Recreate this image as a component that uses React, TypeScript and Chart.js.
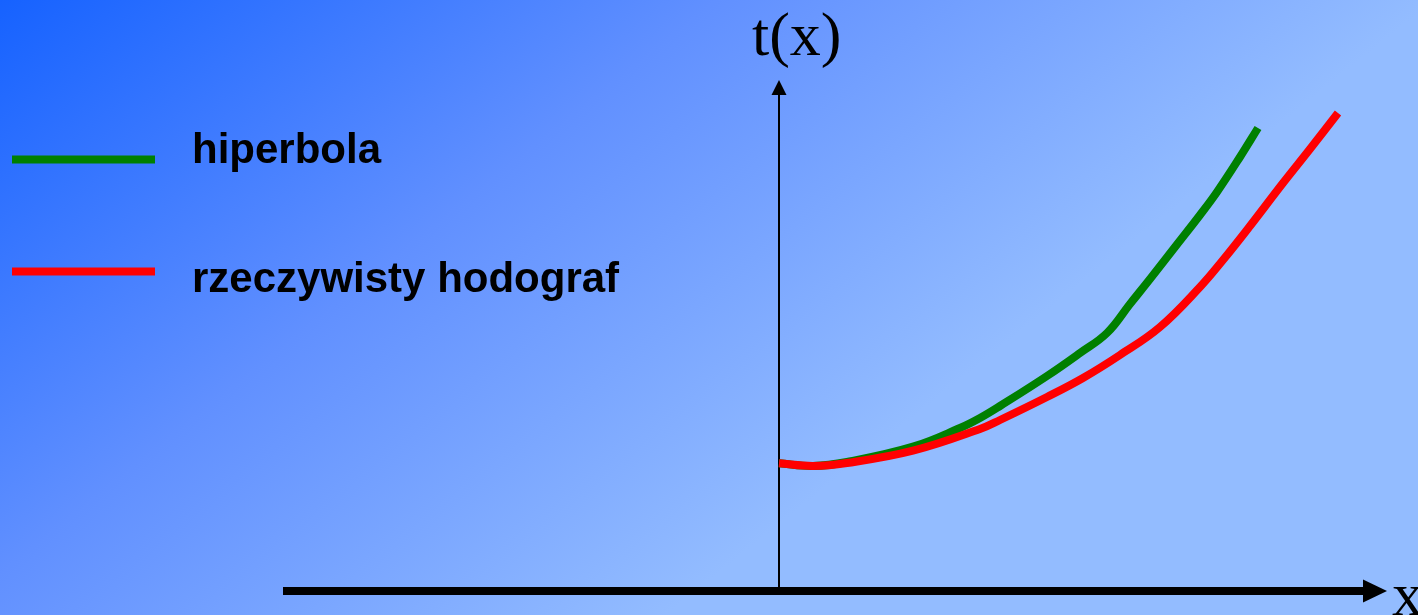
import React, { useEffect, useRef } from "react";
import { Chart, registerables } from "chart.js";

Chart.register(...registerables);

// Offsets x (from the t-axis) and travel times t (above the x-axis)
const hyperbolaX = [0, 34, 68, 134, 181, 201, 221, 268, 301, 328, 351, 371, 396, 421, 438, 461, 479];
const hyperbolaT = [127.7, 125, 129, 144.3, 163, 173, 185, 215, 238, 258, 287, 312, 344, 376, 399, 434, 463];

const realX = [0, 34, 68, 134, 201, 221, 268, 304, 341, 381, 421, 444, 471, 504, 531, 559];
const realT = [127.7, 125, 128, 140.3, 162, 171, 194, 213, 236, 264, 304, 331, 365, 408, 442, 478];

const seriesLabels = ["hiperbola", "rzeczywisty hodograf"];
const seriesColors = ["#008000", "#ff0000"];
const axisLabelY = "t(x)";
const axisLabelX = "x";

const W = 1418;
const H = 615;

const bgPlugin = {
  id: "bg",
  beforeDraw(chart: any) {
    const { ctx } = chart;
    ctx.save();
    const g = ctx.createLinearGradient(0, 0, 560, 700);
    g.addColorStop(0, "#1662ff");
    g.addColorStop(0.5, "#6190ff");
    g.addColorStop(1, "#93bcff");
    ctx.fillStyle = g;
    ctx.fillRect(0, 0, W, H);
    ctx.restore();
  },
};

const axesPlugin = {
  id: "axesArrows",
  beforeDatasetsDraw(chart: any) {
    const { ctx } = chart;
    const xs = chart.scales.x;
    const ys = chart.scales.y;
    const x0 = xs.getPixelForValue(0);
    const y0 = ys.getPixelForValue(0);
    ctx.save();
    ctx.fillStyle = "#000";
    ctx.strokeStyle = "#000";
    // x-axis (thick)
    const xStart = xs.getPixelForValue(-496);
    const xBase = xs.getPixelForValue(584);
    const xTip = xs.getPixelForValue(608);
    ctx.lineWidth = 8;
    ctx.beginPath();
    ctx.moveTo(xStart, y0);
    ctx.lineTo(xBase + 1, y0);
    ctx.stroke();
    ctx.beginPath();
    ctx.moveTo(xTip, y0);
    ctx.lineTo(xBase, y0 - 11.5);
    ctx.lineTo(xBase, y0 + 11.5);
    ctx.closePath();
    ctx.fill();
    // t-axis (thin)
    const yBase = ys.getPixelForValue(496);
    const yTip = ys.getPixelForValue(511);
    ctx.lineWidth = 2;
    ctx.beginPath();
    ctx.moveTo(x0, y0);
    ctx.lineTo(x0, yBase - 1);
    ctx.stroke();
    ctx.beginPath();
    ctx.moveTo(x0, yTip);
    ctx.lineTo(x0 - 7.5, yBase);
    ctx.lineTo(x0 + 7.5, yBase);
    ctx.closePath();
    ctx.fill();
    ctx.restore();
  },
  afterDraw(chart: any) {
    const { ctx } = chart;
    ctx.save();
    ctx.fillStyle = "#000";
    ctx.textAlign = "left";
    ctx.textBaseline = "alphabetic";
    ctx.font = '62px "Liberation Serif", "Times New Roman", serif';
    ctx.fillText(axisLabelY, 752, 55);
    ctx.fillText(axisLabelX, 1392, 615);
    // legend
    const rows = [159.5, 271.5];
    const baselines = [163, 292];
    ctx.font = 'bold 42px "Liberation Sans", Arial, sans-serif';
    seriesLabels.forEach((lab, i) => {
      ctx.strokeStyle = seriesColors[i];
      ctx.lineWidth = 8;
      ctx.beginPath();
      ctx.moveTo(12, rows[i]);
      ctx.lineTo(155, rows[i]);
      ctx.stroke();
      ctx.fillStyle = "#000";
      ctx.fillText(lab, 192, baselines[i]);
    });
    ctx.restore();
  },
};

export default function App() {
  const ref = useRef<HTMLCanvasElement | null>(null);
  useEffect(() => {
    if (!ref.current) return;
    const toPts = (xs: number[], ts: number[]) => xs.map((x, i) => ({ x, y: ts[i] }));
    const chart = new Chart(ref.current, {
      type: "line",
      data: {
        datasets: [
          {
            label: seriesLabels[1],
            data: toPts(realX, realT),
            borderColor: seriesColors[1],
            borderWidth: 8,
            pointRadius: 0,
            tension: 0.4,
            fill: false,
            order: 0,
          },
          {
            label: seriesLabels[0],
            data: toPts(hyperbolaX, hyperbolaT),
            borderColor: seriesColors[0],
            borderWidth: 8,
            pointRadius: 0,
            tension: 0.4,
            fill: false,
            order: 1,
          },
        ],
      },
      options: {
        responsive: false,
        maintainAspectRatio: false,
        animation: false,
        devicePixelRatio: 1,
        layout: { padding: 0 },
        scales: {
          x: { type: "linear", min: -779, max: 639, display: false },
          y: { type: "linear", min: -24, max: 591, display: false },
        },
        plugins: {
          legend: { display: false },
          tooltip: { enabled: false },
        },
      },
      plugins: [bgPlugin, axesPlugin],
    } as any);
    return () => chart.destroy();
  }, []);
  return (
    <div style={{ position: "fixed", left: 0, top: 0, width: W, height: H }}>
      <canvas ref={ref} width={W} height={H} style={{ display: "block" }} />
    </div>
  );
}
